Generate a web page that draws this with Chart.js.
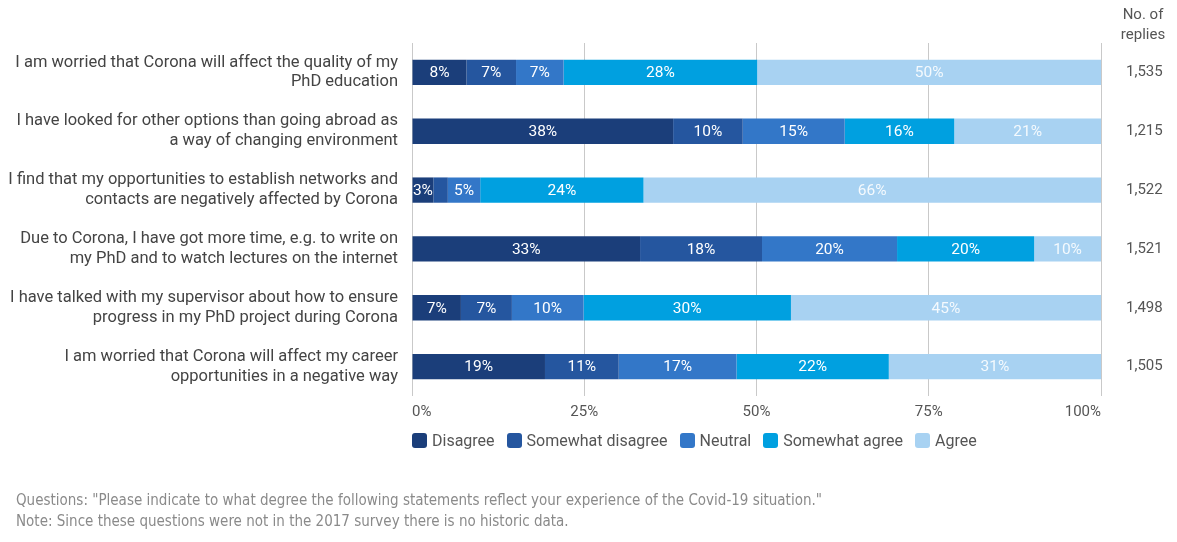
<!DOCTYPE html>
<html>
<head>
<meta charset="utf-8">
<script src="https://cdn.jsdelivr.net/npm/chart.js@4.4.1/dist/chart.umd.min.js"></script>
<style>
  html,body{margin:0;padding:0;background:#fff;}
  #wrap{position:relative;width:1177px;height:542px;overflow:hidden;font-family:Roboto,"Noto Sans",sans-serif;}
  #c{position:absolute;left:0;top:0;}
  #hdr{position:absolute;left:1105px;width:76px;top:5px;text-align:center;font-size:15px;line-height:19.5px;color:#555;}
  #legend{position:absolute;left:412px;top:431px;display:flex;gap:12px;font-size:16px;color:#555;}
  #legend .it{display:flex;align-items:center;gap:5px;}
  #legend .bx{width:15px;height:15px;border-radius:3px;display:inline-block;}
  #foot{position:absolute;left:16px;top:490px;font-family:"Liberation Sans Narrow","DejaVu Sans Condensed",sans-serif;font-size:15px;line-height:21px;color:#8a8a8a;}
</style>
</head>
<body>
<div id="wrap">
  <canvas id="c" width="1177" height="542"></canvas>
  <div id="hdr">No. of<br>replies</div>
  <div id="legend"></div>
  <div id="foot">Questions: "Please indicate to what degree the following statements reflect your experience of the Covid-19 situation."<br>Note: Since these questions were not in the 2017 survey there is no historic data.</div>
</div>
<script>
const categories = [
  ["I am worried that Corona will affect the quality of my", "PhD education"],
  ["I have looked for other options than going abroad as", "a way of changing environment"],
  ["I find that my opportunities to establish networks and", "contacts are negatively affected by Corona"],
  ["Due to Corona, I have got more time, e.g. to write on", "my PhD and to watch lectures on the internet"],
  ["I have talked with my supervisor about how to ensure", "progress in my PhD project during Corona"],
  ["I am worried that Corona will affect my career", "opportunities in a negative way"]
];
const replies = ["1,535", "1,215", "1,522", "1,521", "1,498", "1,505"];
const seriesNames = ["Disagree", "Somewhat disagree", "Neutral", "Somewhat agree", "Agree"];
const disagree         = [7.9, 37.9, 3.1, 33.1, 7.1, 19.3];
const somewhatDisagree = [7.2, 10.1, 2.1, 17.7, 7.4, 10.7];
const neutral          = [6.9, 14.8, 4.7, 19.6, 10.4, 17.1];
const somewhatAgree    = [28.1, 15.9, 23.7, 19.9, 30.1, 22.1];
const agree            = [49.9, 21.3, 66.4, 9.7, 45.0, 30.8];
const xTicks = [0, 25, 50, 75, 100];
const colors = ["#1b3e7a", "#25569f", "#3377c8", "#00a0e0", "#a8d2f2"];

const seriesData = [disagree, somewhatDisagree, neutral, somewhatAgree, agree];

const datasets = seriesNames.map((n, i) => ({
  label: n,
  data: seriesData[i],
  backgroundColor: colors[i],
  borderWidth: 0,
  categoryPercentage: 1,
  barPercentage: 0.43,
  yAxisID: 'y'
}));

const labelPlugin = {
  id: 'segLabels',
  afterDatasetsDraw(chart) {
    const ctx = chart.ctx;
    ctx.save();
    ctx.font = '15.5px Roboto, sans-serif';
    ctx.textAlign = 'center';
    ctx.textBaseline = 'middle';
    chart.data.datasets.forEach((ds, di) => {
      const meta = chart.getDatasetMeta(di);
      meta.data.forEach((bar, idx) => {
        const v = ds.data[idx];
        if (v < 2.5) return;
        const cx = (bar.x + bar.base) / 2;
        ctx.fillStyle = di === 4 ? 'rgba(255,255,255,0.88)' : '#ffffff';
        ctx.fillText(Math.round(v) + '%', cx, bar.y + 1);
      });
    });
    ctx.restore();
  }
};

new Chart(document.getElementById('c'), {
  type: 'bar',
  data: { labels: categories, datasets },
  options: {
    indexAxis: 'y',
    responsive: false,
    animation: false,
    layout: { padding: { top: 43, bottom: 116, left: 0, right: 0 } },
    plugins: { legend: { display: false }, tooltip: { enabled: false } },
    scales: {
      x: {
        stacked: true,
        min: 0, max: 100,
        afterBuildTicks(scale) { scale.ticks = xTicks.map(v => ({ value: v })); },
        afterFit(scale) { scale.height = 30; },
        ticks: { callback: v => v + '%', color: '#555', font: { family: 'Roboto', size: 15 }, padding: 7, maxRotation: 0, align: 'inner' },
        grid: { color: '#c9c9c9', lineWidth: 1, drawTicks: false },
        border: { display: false }
      },
      y: {
        stacked: true,
        position: 'left',
        afterFit(scale) { scale.width = 412; },
        ticks: { color: '#444', font: { family: 'Roboto', size: 16.5, lineHeight: 1.2 }, padding: 14 },
        grid: { display: false, drawTicks: false },
        border: { display: false }
      },
      y2: {
        position: 'right',
        type: 'category',
        labels: replies,
        offset: true,
        afterFit(scale) { scale.width = 76; },
        ticks: { color: '#555', font: { family: 'Roboto', size: 15 }, padding: 25 },
        grid: { display: false, drawTicks: false },
        border: { display: false }
      }
    }
  },
  plugins: [labelPlugin]
});

const lg = document.getElementById('legend');
seriesNames.forEach((n, i) => {
  const it = document.createElement('div');
  it.className = 'it';
  it.innerHTML = '<span class="bx" style="background:' + colors[i] + '"></span><span>' + n + '</span>';
  lg.appendChild(it);
});
</script>
</body>
</html>
